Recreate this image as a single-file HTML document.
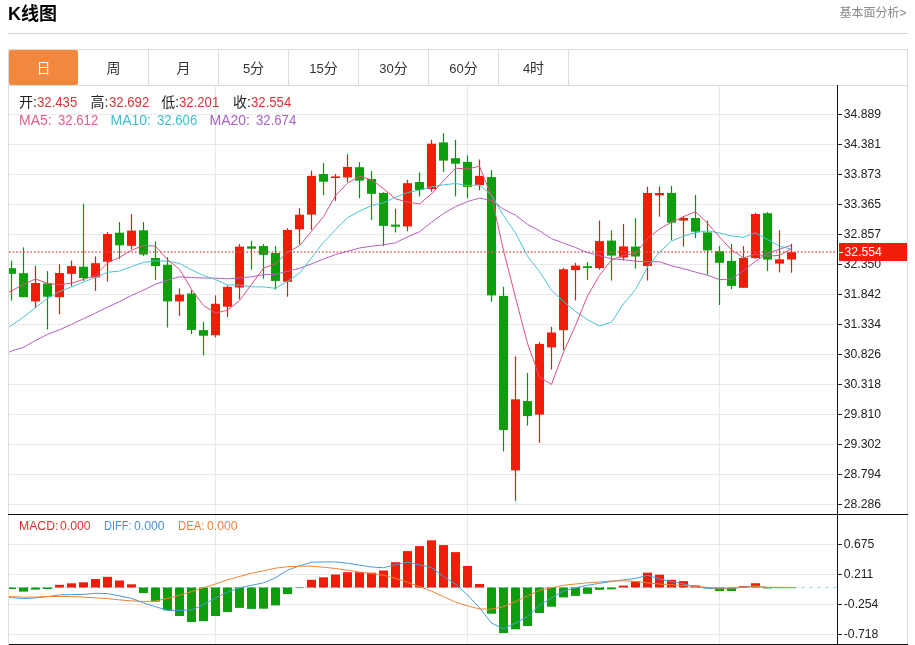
<!DOCTYPE html>
<html lang="zh-CN"><head><meta charset="utf-8"><title>K线图</title>
<style>
html,body{margin:0;padding:0;background:#fff}
body{width:915px;height:645px;position:relative;overflow:hidden;font-family:"Liberation Sans","Noto Sans CJK SC",sans-serif;color:#222}
.title{position:absolute;left:8px;top:2px;font-size:18px;font-weight:bold;line-height:24px;color:#000}
  .more{position:absolute;right:8.5px;top:4.5px;font-size:12px;line-height:17px;color:#8a8a8a}
.hr{position:absolute;left:8px;top:33px;width:900px;height:1px;background:#d4d4d4}
.box{position:absolute;left:8px;top:49px;width:900px;height:600px;border:1px solid #dcdcdc;border-bottom:none;box-sizing:border-box}
.tabline{position:absolute;left:8px;top:85px;width:900px;height:1px;background:#dcdcdc}
.tab{position:absolute;top:50px;width:70px;height:35px;line-height:36px;text-align:center;font-size:14px;color:#333;box-sizing:border-box;border-right:1px solid #dcdcdc}
.tab.on{background:#f1883d;color:#fff;border-right:none;border-radius:2px;width:69px}
.tab i{font-style:normal;font-size:13px}
.t{position:absolute;font-size:14px;line-height:16px;white-space:nowrap}
  .m{font-size:13px}
.n{transform:scaleX(.94);transform-origin:0 0}
.yl{position:absolute;left:843.8px;font-size:12.2px;line-height:14px;color:#222;white-space:nowrap}
.tag{position:absolute;left:839px;top:243px;width:68px;height:18px;background:#f21c0a;color:#fff;font-size:12.2px;line-height:18.8px;text-indent:5.6px}
.tag:before{content:'';position:absolute;left:0;top:8.5px;width:4px;height:1px;background:#fff}
</style></head><body>
<div class="title">K线图</div>
<div class="more">基本面分析&gt;</div>
<div class="hr"></div>
<div class="box"></div>
<div class="tab on" style="left:9px">日</div><div class="tab" style="left:79px">周</div><div class="tab" style="left:149px">月</div><div class="tab" style="left:219px"><i>5</i>分</div><div class="tab" style="left:289px"><i>15</i>分</div><div class="tab" style="left:359px"><i>30</i>分</div><div class="tab" style="left:429px"><i>60</i>分</div><div class="tab" style="left:499px"><i>4</i>时</div>
<div class="tabline"></div>
<svg width="915" height="645" viewBox="0 0 915 645" style="position:absolute;left:0;top:0"><defs><clipPath id="cp"><rect x="9" y="85" width="828" height="560"/></clipPath></defs><g stroke="#e9e9ea" stroke-width="1"><line x1="9" y1="114.5" x2="837" y2="114.5"/><line x1="9" y1="144.5" x2="837" y2="144.5"/><line x1="9" y1="174.5" x2="837" y2="174.5"/><line x1="9" y1="204.5" x2="837" y2="204.5"/><line x1="9" y1="234.5" x2="837" y2="234.5"/><line x1="9" y1="264.5" x2="837" y2="264.5"/><line x1="9" y1="294.5" x2="837" y2="294.5"/><line x1="9" y1="324.5" x2="837" y2="324.5"/><line x1="9" y1="354.5" x2="837" y2="354.5"/><line x1="9" y1="384.5" x2="837" y2="384.5"/><line x1="9" y1="414.5" x2="837" y2="414.5"/><line x1="9" y1="444.5" x2="837" y2="444.5"/><line x1="9" y1="474.5" x2="837" y2="474.5"/><line x1="9" y1="504.5" x2="837" y2="504.5"/><line x1="9" y1="544.5" x2="837" y2="544.5"/><line x1="9" y1="574.5" x2="837" y2="574.5"/><line x1="9" y1="604.5" x2="837" y2="604.5"/><line x1="9" y1="634.5" x2="837" y2="634.5"/></g><g stroke="#e3eaf1" stroke-width="1"><line x1="215.5" y1="85" x2="215.5" y2="644"/><line x1="467.5" y1="85" x2="467.5" y2="644"/><line x1="719.5" y1="85" x2="719.5" y2="644"/></g><line x1="9" y1="587.5" x2="837" y2="587.5" stroke="#a8d4ea" stroke-width="1" stroke-dasharray="4,4"/><g clip-path="url(#cp)">
<line x1="11.5" y1="260.6" x2="11.5" y2="300.6" stroke="#0e8e12" stroke-width="1.2"/>
<rect x="7.0" y="268.2" width="9" height="5.6" fill="#0c9e0c"/>
<line x1="23.5" y1="247.4" x2="23.5" y2="297.2" stroke="#0e8e12" stroke-width="1.2"/>
<rect x="19.0" y="273.2" width="9" height="24.0" fill="#0c9e0c"/>
<line x1="35.5" y1="265.9" x2="35.5" y2="308.0" stroke="#cc2018" stroke-width="1.2"/>
<rect x="31.0" y="283.0" width="9" height="18.4" fill="#f21c0a"/>
<line x1="47.5" y1="271.1" x2="47.5" y2="329.6" stroke="#0e8e12" stroke-width="1.2"/>
<rect x="43.0" y="283.5" width="9" height="13.2" fill="#0c9e0c"/>
<line x1="59.5" y1="264.3" x2="59.5" y2="314.3" stroke="#cc2018" stroke-width="1.2"/>
<rect x="55.0" y="273.0" width="9" height="24.2" fill="#f21c0a"/>
<line x1="71.5" y1="260.6" x2="71.5" y2="286.2" stroke="#cc2018" stroke-width="1.2"/>
<rect x="67.0" y="266.1" width="9" height="7.7" fill="#f21c0a"/>
<line x1="83.5" y1="203.7" x2="83.5" y2="280.9" stroke="#0e8e12" stroke-width="1.2"/>
<rect x="79.0" y="266.7" width="9" height="11.3" fill="#0c9e0c"/>
<line x1="95.5" y1="256.4" x2="95.5" y2="290.9" stroke="#cc2018" stroke-width="1.2"/>
<rect x="91.0" y="263.2" width="9" height="14.3" fill="#f21c0a"/>
<line x1="107.5" y1="232.1" x2="107.5" y2="281.4" stroke="#cc2018" stroke-width="1.2"/>
<rect x="103.0" y="234.0" width="9" height="27.7" fill="#f21c0a"/>
<line x1="119.5" y1="222.1" x2="119.5" y2="259.0" stroke="#0e8e12" stroke-width="1.2"/>
<rect x="115.0" y="232.7" width="9" height="12.6" fill="#0c9e0c"/>
<line x1="131.5" y1="214.2" x2="131.5" y2="249.3" stroke="#cc2018" stroke-width="1.2"/>
<rect x="127.0" y="230.6" width="9" height="15.2" fill="#f21c0a"/>
<line x1="143.5" y1="222.1" x2="143.5" y2="255.9" stroke="#0e8e12" stroke-width="1.2"/>
<rect x="139.0" y="230.3" width="9" height="24.2" fill="#0c9e0c"/>
<line x1="155.5" y1="241.4" x2="155.5" y2="280.1" stroke="#0e8e12" stroke-width="1.2"/>
<rect x="151.0" y="258.0" width="9" height="8.1" fill="#0c9e0c"/>
<line x1="167.5" y1="257.2" x2="167.5" y2="327.5" stroke="#0e8e12" stroke-width="1.2"/>
<rect x="163.0" y="264.8" width="9" height="36.6" fill="#0c9e0c"/>
<line x1="179.5" y1="288.3" x2="179.5" y2="315.9" stroke="#cc2018" stroke-width="1.2"/>
<rect x="175.0" y="294.6" width="9" height="6.8" fill="#f21c0a"/>
<line x1="191.5" y1="290.1" x2="191.5" y2="334.1" stroke="#0e8e12" stroke-width="1.2"/>
<rect x="187.0" y="293.5" width="9" height="36.4" fill="#0c9e0c"/>
<line x1="203.5" y1="321.7" x2="203.5" y2="355.4" stroke="#0e8e12" stroke-width="1.2"/>
<rect x="199.0" y="330.1" width="9" height="5.6" fill="#0c9e0c"/>
<line x1="215.5" y1="295.4" x2="215.5" y2="337.5" stroke="#cc2018" stroke-width="1.2"/>
<rect x="211.0" y="303.8" width="9" height="31.4" fill="#f21c0a"/>
<line x1="227.5" y1="285.4" x2="227.5" y2="317.0" stroke="#cc2018" stroke-width="1.2"/>
<rect x="223.0" y="286.9" width="9" height="19.8" fill="#f21c0a"/>
<line x1="239.5" y1="244.0" x2="239.5" y2="299.3" stroke="#cc2018" stroke-width="1.2"/>
<rect x="235.0" y="246.6" width="9" height="40.9" fill="#f21c0a"/>
<line x1="251.5" y1="240.8" x2="251.5" y2="269.6" stroke="#0e8e12" stroke-width="1.2"/>
<rect x="247.0" y="246.4" width="9" height="2.3" fill="#0c9e0c"/>
<line x1="263.5" y1="244.0" x2="263.5" y2="278.8" stroke="#0e8e12" stroke-width="1.2"/>
<rect x="259.0" y="246.1" width="9" height="8.7" fill="#0c9e0c"/>
<line x1="275.5" y1="246.1" x2="275.5" y2="289.6" stroke="#0e8e12" stroke-width="1.2"/>
<rect x="271.0" y="253.0" width="9" height="27.9" fill="#0c9e0c"/>
<line x1="287.5" y1="228.2" x2="287.5" y2="296.7" stroke="#cc2018" stroke-width="1.2"/>
<rect x="283.0" y="230.0" width="9" height="51.7" fill="#f21c0a"/>
<line x1="299.5" y1="208.1" x2="299.5" y2="244.4" stroke="#cc2018" stroke-width="1.2"/>
<rect x="295.0" y="214.7" width="9" height="14.6" fill="#f21c0a"/>
<line x1="311.5" y1="170.6" x2="311.5" y2="229.9" stroke="#cc2018" stroke-width="1.2"/>
<rect x="307.0" y="175.9" width="9" height="38.7" fill="#f21c0a"/>
<line x1="323.5" y1="163.2" x2="323.5" y2="195.1" stroke="#0e8e12" stroke-width="1.2"/>
<rect x="319.0" y="174.0" width="9" height="7.7" fill="#0c9e0c"/>
<line x1="335.5" y1="174.0" x2="335.5" y2="200.9" stroke="#cc2018" stroke-width="1.2"/>
<rect x="331.0" y="176.4" width="9" height="1.6" fill="#f21c0a"/>
<line x1="347.5" y1="154.3" x2="347.5" y2="181.9" stroke="#cc2018" stroke-width="1.2"/>
<rect x="343.0" y="166.9" width="9" height="10.5" fill="#f21c0a"/>
<line x1="359.5" y1="162.2" x2="359.5" y2="198.3" stroke="#0e8e12" stroke-width="1.2"/>
<rect x="355.0" y="167.2" width="9" height="13.4" fill="#0c9e0c"/>
<line x1="371.5" y1="171.1" x2="371.5" y2="220.1" stroke="#0e8e12" stroke-width="1.2"/>
<rect x="367.0" y="179.0" width="9" height="14.8" fill="#0c9e0c"/>
<line x1="383.5" y1="192.2" x2="383.5" y2="246.2" stroke="#0e8e12" stroke-width="1.2"/>
<rect x="379.0" y="193.0" width="9" height="32.9" fill="#0c9e0c"/>
<line x1="395.5" y1="208.8" x2="395.5" y2="232.5" stroke="#0e8e12" stroke-width="1.2"/>
<rect x="391.0" y="224.6" width="9" height="2.1" fill="#0c9e0c"/>
<line x1="407.5" y1="179.8" x2="407.5" y2="231.2" stroke="#cc2018" stroke-width="1.2"/>
<rect x="403.0" y="183.2" width="9" height="43.2" fill="#f21c0a"/>
<line x1="419.5" y1="172.4" x2="419.5" y2="196.4" stroke="#0e8e12" stroke-width="1.2"/>
<rect x="415.0" y="182.0" width="9" height="8.0" fill="#0c9e0c"/>
<line x1="431.5" y1="139.8" x2="431.5" y2="191.7" stroke="#cc2018" stroke-width="1.2"/>
<rect x="427.0" y="143.7" width="9" height="45.3" fill="#f21c0a"/>
<line x1="443.5" y1="133.2" x2="443.5" y2="171.9" stroke="#0e8e12" stroke-width="1.2"/>
<rect x="439.0" y="142.4" width="9" height="18.2" fill="#0c9e0c"/>
<line x1="455.5" y1="139.8" x2="455.5" y2="196.4" stroke="#0e8e12" stroke-width="1.2"/>
<rect x="451.0" y="158.2" width="9" height="5.5" fill="#0c9e0c"/>
<line x1="467.5" y1="155.3" x2="467.5" y2="198.3" stroke="#0e8e12" stroke-width="1.2"/>
<rect x="463.0" y="161.9" width="9" height="25.0" fill="#0c9e0c"/>
<line x1="479.5" y1="159.5" x2="479.5" y2="190.3" stroke="#cc2018" stroke-width="1.2"/>
<rect x="475.0" y="175.9" width="9" height="9.2" fill="#f21c0a"/>
<line x1="491.5" y1="170.1" x2="491.5" y2="301.7" stroke="#0e8e12" stroke-width="1.2"/>
<rect x="487.0" y="177.1" width="9" height="118.3" fill="#0c9e0c"/>
<line x1="503.5" y1="286.7" x2="503.5" y2="451.4" stroke="#0e8e12" stroke-width="1.2"/>
<rect x="499.0" y="295.9" width="9" height="134.2" fill="#0c9e0c"/>
<line x1="515.5" y1="356.3" x2="515.5" y2="500.7" stroke="#cc2018" stroke-width="1.2"/>
<rect x="511.0" y="399.3" width="9" height="71.1" fill="#f21c0a"/>
<line x1="527.5" y1="372.9" x2="527.5" y2="425.6" stroke="#0e8e12" stroke-width="1.2"/>
<rect x="523.0" y="401.1" width="9" height="15.0" fill="#0c9e0c"/>
<line x1="539.5" y1="342.1" x2="539.5" y2="442.7" stroke="#cc2018" stroke-width="1.2"/>
<rect x="535.0" y="344.0" width="9" height="70.6" fill="#f21c0a"/>
<line x1="551.5" y1="326.7" x2="551.5" y2="369.5" stroke="#cc2018" stroke-width="1.2"/>
<rect x="547.0" y="332.5" width="9" height="14.9" fill="#f21c0a"/>
<line x1="563.5" y1="268.0" x2="563.5" y2="350.0" stroke="#cc2018" stroke-width="1.2"/>
<rect x="559.0" y="269.3" width="9" height="60.9" fill="#f21c0a"/>
<line x1="575.5" y1="262.7" x2="575.5" y2="300.4" stroke="#cc2018" stroke-width="1.2"/>
<rect x="571.0" y="265.6" width="9" height="4.5" fill="#f21c0a"/>
<line x1="587.5" y1="262.2" x2="587.5" y2="279.9" stroke="#0e8e12" stroke-width="1.2"/>
<rect x="583.0" y="266.2" width="9" height="1.8" fill="#0c9e0c"/>
<line x1="599.5" y1="220.6" x2="599.5" y2="269.6" stroke="#cc2018" stroke-width="1.2"/>
<rect x="595.0" y="241.1" width="9" height="26.9" fill="#f21c0a"/>
<line x1="611.5" y1="230.6" x2="611.5" y2="280.6" stroke="#0e8e12" stroke-width="1.2"/>
<rect x="607.0" y="240.6" width="9" height="15.0" fill="#0c9e0c"/>
<line x1="623.5" y1="224.0" x2="623.5" y2="260.4" stroke="#cc2018" stroke-width="1.2"/>
<rect x="619.0" y="246.4" width="9" height="11.1" fill="#f21c0a"/>
<line x1="635.5" y1="218.1" x2="635.5" y2="268.6" stroke="#0e8e12" stroke-width="1.2"/>
<rect x="631.0" y="246.6" width="9" height="9.9" fill="#0c9e0c"/>
<line x1="647.5" y1="186.7" x2="647.5" y2="280.5" stroke="#cc2018" stroke-width="1.2"/>
<rect x="643.0" y="193.0" width="9" height="73.0" fill="#f21c0a"/>
<line x1="659.5" y1="186.4" x2="659.5" y2="216.7" stroke="#cc2018" stroke-width="1.2"/>
<rect x="655.0" y="193.0" width="9" height="2.3" fill="#f21c0a"/>
<line x1="671.5" y1="185.8" x2="671.5" y2="240.3" stroke="#0e8e12" stroke-width="1.2"/>
<rect x="667.0" y="192.9" width="9" height="29.8" fill="#0c9e0c"/>
<line x1="683.5" y1="216.1" x2="683.5" y2="246.4" stroke="#cc2018" stroke-width="1.2"/>
<rect x="679.0" y="218.0" width="9" height="2.6" fill="#f21c0a"/>
<line x1="695.5" y1="195.0" x2="695.5" y2="238.2" stroke="#0e8e12" stroke-width="1.2"/>
<rect x="691.0" y="218.0" width="9" height="13.7" fill="#0c9e0c"/>
<line x1="707.5" y1="220.6" x2="707.5" y2="274.6" stroke="#0e8e12" stroke-width="1.2"/>
<rect x="703.0" y="232.4" width="9" height="18.0" fill="#0c9e0c"/>
<line x1="719.5" y1="246.1" x2="719.5" y2="304.9" stroke="#0e8e12" stroke-width="1.2"/>
<rect x="715.0" y="251.2" width="9" height="11.6" fill="#0c9e0c"/>
<line x1="731.5" y1="243.8" x2="731.5" y2="289.1" stroke="#0e8e12" stroke-width="1.2"/>
<rect x="727.0" y="260.9" width="9" height="25.0" fill="#0c9e0c"/>
<line x1="743.5" y1="246.1" x2="743.5" y2="287.8" stroke="#cc2018" stroke-width="1.2"/>
<rect x="739.0" y="258.0" width="9" height="29.8" fill="#f21c0a"/>
<line x1="755.5" y1="212.7" x2="755.5" y2="258.8" stroke="#cc2018" stroke-width="1.2"/>
<rect x="751.0" y="214.0" width="9" height="44.1" fill="#f21c0a"/>
<line x1="767.5" y1="212.2" x2="767.5" y2="271.2" stroke="#0e8e12" stroke-width="1.2"/>
<rect x="763.0" y="213.2" width="9" height="46.4" fill="#0c9e0c"/>
<line x1="779.5" y1="230.3" x2="779.5" y2="272.5" stroke="#cc2018" stroke-width="1.2"/>
<rect x="775.0" y="259.3" width="9" height="4.3" fill="#f21c0a"/>
<line x1="791.5" y1="243.7" x2="791.5" y2="272.7" stroke="#cc2018" stroke-width="1.2"/>
<rect x="787.0" y="252.1" width="9" height="7.4" fill="#f21c0a"/>
<rect x="7.0" y="587.5" width="9" height="1.5" fill="#0c9e0c"/>
<rect x="19.0" y="587.5" width="9" height="4.1" fill="#0c9e0c"/>
<rect x="31.0" y="587.5" width="9" height="2.1" fill="#0c9e0c"/>
<rect x="43.0" y="587.5" width="9" height="1.5" fill="#0c9e0c"/>
<rect x="55.0" y="584.8" width="9" height="2.7" fill="#f21c0a"/>
<rect x="67.0" y="583.3" width="9" height="4.2" fill="#f21c0a"/>
<rect x="79.0" y="582.3" width="9" height="5.2" fill="#f21c0a"/>
<rect x="91.0" y="579.0" width="9" height="8.5" fill="#f21c0a"/>
<rect x="103.0" y="576.8" width="9" height="10.7" fill="#f21c0a"/>
<rect x="115.0" y="580.5" width="9" height="7.0" fill="#f21c0a"/>
<rect x="127.0" y="584.3" width="9" height="3.2" fill="#f21c0a"/>
<rect x="139.0" y="587.5" width="9" height="5.6" fill="#0c9e0c"/>
<rect x="151.0" y="587.5" width="9" height="14.1" fill="#0c9e0c"/>
<rect x="163.0" y="587.5" width="9" height="22.9" fill="#0c9e0c"/>
<rect x="175.0" y="587.5" width="9" height="28.5" fill="#0c9e0c"/>
<rect x="187.0" y="587.5" width="9" height="34.5" fill="#0c9e0c"/>
<rect x="199.0" y="587.5" width="9" height="33.7" fill="#0c9e0c"/>
<rect x="211.0" y="587.5" width="9" height="28.5" fill="#0c9e0c"/>
<rect x="223.0" y="587.5" width="9" height="24.5" fill="#0c9e0c"/>
<rect x="235.0" y="587.5" width="9" height="20.4" fill="#0c9e0c"/>
<rect x="247.0" y="587.5" width="9" height="21.4" fill="#0c9e0c"/>
<rect x="259.0" y="587.5" width="9" height="21.2" fill="#0c9e0c"/>
<rect x="271.0" y="587.5" width="9" height="17.9" fill="#0c9e0c"/>
<rect x="283.0" y="587.5" width="9" height="6.6" fill="#0c9e0c"/>
<rect x="295.0" y="587.0" width="9" height="0.5" fill="#f21c0a"/>
<rect x="307.0" y="579.8" width="9" height="7.7" fill="#f21c0a"/>
<rect x="319.0" y="577.3" width="9" height="10.2" fill="#f21c0a"/>
<rect x="331.0" y="574.5" width="9" height="13.0" fill="#f21c0a"/>
<rect x="343.0" y="572.2" width="9" height="15.3" fill="#f21c0a"/>
<rect x="355.0" y="572.2" width="9" height="15.3" fill="#f21c0a"/>
<rect x="367.0" y="572.7" width="9" height="14.8" fill="#f21c0a"/>
<rect x="379.0" y="570.5" width="9" height="17.0" fill="#f21c0a"/>
<rect x="391.0" y="562.2" width="9" height="25.3" fill="#f21c0a"/>
<rect x="403.0" y="551.1" width="9" height="36.4" fill="#f21c0a"/>
<rect x="415.0" y="546.1" width="9" height="41.4" fill="#f21c0a"/>
<rect x="427.0" y="540.3" width="9" height="47.2" fill="#f21c0a"/>
<rect x="439.0" y="545.1" width="9" height="42.4" fill="#f21c0a"/>
<rect x="451.0" y="552.1" width="9" height="35.4" fill="#f21c0a"/>
<rect x="463.0" y="566.0" width="9" height="21.5" fill="#f21c0a"/>
<rect x="475.0" y="584.0" width="9" height="3.5" fill="#f21c0a"/>
<rect x="487.0" y="587.5" width="9" height="26.2" fill="#0c9e0c"/>
<rect x="499.0" y="587.5" width="9" height="45.6" fill="#0c9e0c"/>
<rect x="511.0" y="587.5" width="9" height="41.8" fill="#0c9e0c"/>
<rect x="523.0" y="587.5" width="9" height="38.5" fill="#0c9e0c"/>
<rect x="535.0" y="587.5" width="9" height="25.5" fill="#0c9e0c"/>
<rect x="547.0" y="587.5" width="9" height="19.2" fill="#0c9e0c"/>
<rect x="559.0" y="587.5" width="9" height="9.9" fill="#0c9e0c"/>
<rect x="571.0" y="587.5" width="9" height="8.4" fill="#0c9e0c"/>
<rect x="583.0" y="587.5" width="9" height="6.3" fill="#0c9e0c"/>
<rect x="595.0" y="587.5" width="9" height="2.3" fill="#0c9e0c"/>
<rect x="607.0" y="587.5" width="9" height="1.8" fill="#0c9e0c"/>
<rect x="619.0" y="585.6" width="9" height="1.9" fill="#f21c0a"/>
<rect x="631.0" y="581.3" width="9" height="6.2" fill="#f21c0a"/>
<rect x="643.0" y="572.7" width="9" height="14.8" fill="#f21c0a"/>
<rect x="655.0" y="574.7" width="9" height="12.8" fill="#f21c0a"/>
<rect x="667.0" y="579.8" width="9" height="7.7" fill="#f21c0a"/>
<rect x="679.0" y="581.1" width="9" height="6.4" fill="#f21c0a"/>
<rect x="691.0" y="585.4" width="9" height="2.1" fill="#f21c0a"/>
<rect x="703.0" y="587.5" width="9" height="0.9" fill="#0c9e0c"/>
<rect x="715.0" y="587.5" width="9" height="3.5" fill="#0c9e0c"/>
<rect x="727.0" y="587.5" width="9" height="3.5" fill="#0c9e0c"/>
<rect x="739.0" y="586.2" width="9" height="1.3" fill="#f21c0a"/>
<rect x="751.0" y="583.2" width="9" height="4.3" fill="#f21c0a"/>
<rect x="763.0" y="587.5" width="9" height="0.9" fill="#0c9e0c"/>
<rect x="775.0" y="587.5" width="9" height="0.6" fill="#0c9e0c"/>
<rect x="787.0" y="587.5" width="9" height="0.6" fill="#0c9e0c"/><line x1="9" y1="252" x2="837" y2="252" stroke="#e25555" stroke-width="1.5" stroke-dasharray="1.5,2.1"/><polyline fill="none" stroke="#b25fc4" stroke-width="1.0" stroke-linejoin="round" points="8,352.6 11.5,351.0 23.5,347.3 35.5,340.5 47.5,334.4 59.5,329.8 71.5,324.4 83.5,318.7 95.5,313.0 107.5,307.2 119.5,301.6 131.5,295.4 143.5,290.1 155.5,284.3 167.5,280.1 179.5,276.9 191.5,277.5 203.5,278.0 215.5,278.2 227.5,278.8 239.5,278.0 251.5,276.8 263.5,274.6 275.5,274.5 287.5,271.2 299.5,268.3 311.5,263.8 323.5,259.0 335.5,254.6 347.5,251.3 359.5,248.0 371.5,246.2 383.5,244.8 395.5,242.8 407.5,236.9 419.5,231.7 431.5,222.3 443.5,213.6 455.5,206.6 467.5,201.6 479.5,198.1 491.5,200.4 503.5,209.2 515.5,215.1 527.5,224.4 539.5,230.8 551.5,238.7 563.5,243.1 575.5,247.5 587.5,252.6 599.5,255.6 611.5,258.7 623.5,259.7 635.5,261.2 647.5,261.7 659.5,261.8 671.5,265.8 683.5,268.7 695.5,272.1 707.5,275.2 719.5,279.6 731.5,279.1 743.5,270.5 755.5,261.2 767.5,253.4 779.5,249.2 791.5,245.2"/><polyline fill="none" stroke="#48c6d2" stroke-width="1.0" stroke-linejoin="round" points="8,327.4 11.5,325.4 23.5,317.1 35.5,307.6 47.5,298.5 59.5,291.5 71.5,287.0 83.5,282.0 95.5,277.4 107.5,272.3 119.5,271.0 131.5,266.7 143.5,262.4 155.5,260.8 167.5,261.2 179.5,263.4 191.5,269.8 203.5,275.5 215.5,279.6 227.5,284.9 239.5,285.0 251.5,286.8 263.5,286.9 275.5,288.3 287.5,281.2 299.5,273.2 311.5,257.8 323.5,242.4 335.5,229.7 347.5,217.7 359.5,211.1 371.5,205.6 383.5,202.7 395.5,197.3 407.5,192.6 419.5,190.1 431.5,186.9 443.5,184.8 455.5,183.5 467.5,185.5 479.5,185.0 491.5,195.2 503.5,215.6 515.5,232.9 527.5,256.2 539.5,271.6 551.5,290.4 563.5,301.3 575.5,311.5 587.5,319.6 599.5,326.1 611.5,322.2 623.5,303.8 635.5,289.5 647.5,267.2 659.5,252.1 671.5,241.1 683.5,236.0 695.5,232.6 707.5,230.8 719.5,233.0 731.5,236.0 743.5,237.2 755.5,232.9 767.5,239.6 779.5,246.2 791.5,249.2"/><polyline fill="none" stroke="#e2507c" stroke-width="1.0" stroke-linejoin="round" points="8,292.5 11.5,291.0 23.5,284.4 35.5,279.0 47.5,283.4 59.5,284.7 71.5,283.2 83.5,279.4 95.5,275.4 107.5,262.9 119.5,257.3 131.5,250.2 143.5,245.5 155.5,246.1 167.5,259.6 179.5,269.4 191.5,289.3 203.5,305.5 215.5,313.1 227.5,310.2 239.5,300.6 251.5,284.3 263.5,268.2 275.5,263.6 287.5,252.2 299.5,245.8 311.5,231.3 323.5,216.6 335.5,195.7 347.5,183.1 359.5,176.3 371.5,179.9 383.5,188.7 395.5,198.8 407.5,202.0 419.5,203.9 431.5,193.9 443.5,180.8 455.5,168.2 467.5,169.0 479.5,166.2 491.5,196.5 503.5,250.4 515.5,297.5 527.5,343.4 539.5,377.0 551.5,384.4 563.5,352.2 575.5,325.5 587.5,295.9 599.5,275.3 611.5,259.9 623.5,255.3 635.5,253.5 647.5,238.5 659.5,228.9 671.5,222.3 683.5,216.6 695.5,211.7 707.5,223.2 719.5,237.1 731.5,249.8 743.5,257.8 755.5,254.2 767.5,256.1 779.5,255.4 791.5,248.6"/><polyline fill="none" stroke="#4a9be0" stroke-width="1.0" stroke-linejoin="round" points="8,597.4 11.5,597.6 23.5,598.6 35.5,597.9 47.5,596.6 59.5,594.9 71.5,594.6 83.5,594.4 95.5,593.3 107.5,593.6 119.5,595.9 131.5,598.4 143.5,602.9 155.5,606.7 167.5,610.4 179.5,610.4 191.5,610.0 203.5,604.7 215.5,597.9 227.5,592.1 239.5,587.8 251.5,585.3 263.5,582.8 275.5,577.8 287.5,570.2 299.5,565.9 311.5,562.2 323.5,561.9 335.5,561.9 347.5,563.2 359.5,565.2 371.5,567.0 383.5,567.7 395.5,564.7 407.5,562.2 419.5,564.7 431.5,567.7 443.5,576.5 455.5,584.0 467.5,594.9 479.5,607.9 491.5,623.0 503.5,628.8 515.5,623.0 527.5,616.7 539.5,605.4 551.5,597.9 563.5,591.1 575.5,587.8 587.5,585.3 599.5,583.3 611.5,581.5 623.5,579.8 635.5,578.5 647.5,575.2 659.5,579.0 671.5,581.5 683.5,584.0 695.5,586.5 707.5,588.2 719.5,589.0 731.5,588.6 743.5,587.0 755.5,585.8 767.5,587.6 779.5,587.6 791.5,587.5"/><polyline fill="none" stroke="#f08434" stroke-width="1.0" stroke-linejoin="round" points="8,596.6 11.5,596.7 23.5,597.1 35.5,597.1 47.5,596.6 59.5,596.4 71.5,596.6 83.5,597.1 95.5,597.9 107.5,598.6 119.5,599.9 131.5,600.9 143.5,601.4 155.5,601.1 167.5,598.4 179.5,595.4 191.5,591.6 203.5,587.8 215.5,584.0 227.5,579.8 239.5,576.5 251.5,573.2 263.5,570.7 275.5,568.2 287.5,566.7 299.5,566.2 311.5,566.2 323.5,567.2 335.5,568.5 347.5,570.2 359.5,572.0 371.5,573.5 383.5,575.2 395.5,578.3 407.5,582.3 419.5,586.6 431.5,591.1 443.5,596.6 455.5,602.1 467.5,605.9 479.5,608.9 491.5,609.2 503.5,606.7 515.5,601.6 527.5,595.9 539.5,590.3 551.5,587.8 563.5,585.3 575.5,584.0 587.5,582.8 599.5,582.0 611.5,581.0 623.5,580.8 635.5,581.5 647.5,582.8 659.5,584.0 671.5,584.8 683.5,585.5 695.5,586.3 707.5,587.4 719.5,588.0 731.5,588.0 743.5,587.4 755.5,586.6 767.5,587.2 779.5,587.4 791.5,587.4"/></g><line x1="837.5" y1="85" x2="837.5" y2="645" stroke="#111" stroke-width="1"/><rect x="8" y="514" width="900" height="1" fill="#111"/><rect x="9" y="644" width="899" height="1" fill="#111"/><g stroke="#222" stroke-width="1"><line x1="838" y1="114.5" x2="842" y2="114.5"/><line x1="838" y1="144.5" x2="842" y2="144.5"/><line x1="838" y1="174.5" x2="842" y2="174.5"/><line x1="838" y1="204.5" x2="842" y2="204.5"/><line x1="838" y1="234.5" x2="842" y2="234.5"/><line x1="838" y1="264.5" x2="842" y2="264.5"/><line x1="838" y1="294.5" x2="842" y2="294.5"/><line x1="838" y1="324.5" x2="842" y2="324.5"/><line x1="838" y1="354.5" x2="842" y2="354.5"/><line x1="838" y1="384.5" x2="842" y2="384.5"/><line x1="838" y1="414.5" x2="842" y2="414.5"/><line x1="838" y1="444.5" x2="842" y2="444.5"/><line x1="838" y1="474.5" x2="842" y2="474.5"/><line x1="838" y1="504.5" x2="842" y2="504.5"/><line x1="838" y1="544.5" x2="842" y2="544.5"/><line x1="838" y1="574.5" x2="842" y2="574.5"/><line x1="838" y1="604.5" x2="842" y2="604.5"/><line x1="838" y1="634.5" x2="842" y2="634.5"/></g></svg>
<div class="yl" style="top:107.2px">34.889</div><div class="yl" style="top:137.2px">34.381</div><div class="yl" style="top:167.2px">33.873</div><div class="yl" style="top:197.2px">33.365</div><div class="yl" style="top:227.2px">32.857</div><div class="yl" style="top:257.2px">32.350</div><div class="yl" style="top:287.2px">31.842</div><div class="yl" style="top:317.2px">31.334</div><div class="yl" style="top:347.2px">30.826</div><div class="yl" style="top:377.2px">30.318</div><div class="yl" style="top:407.2px">29.810</div><div class="yl" style="top:437.2px">29.302</div><div class="yl" style="top:467.2px">28.794</div><div class="yl" style="top:497.2px">28.286</div><div class="yl" style="top:537.2px">0.675</div><div class="yl" style="top:567.2px">0.211</div><div class="yl" style="top:597.2px">-0.254</div><div class="yl" style="top:627.2px">-0.718</div>
<div class="tag">32.554</div>
<div class="t" style="left:19px;top:94px">开:</div><div class="t n" style="left:36.8px;top:94px;color:#d8353a">32.435</div>
<div class="t" style="left:90.5px;top:94px">高:</div><div class="t n" style="left:108.7px;top:94px;color:#d8353a">32.692</div>
<div class="t" style="left:161.3px;top:94px">低:</div><div class="t n" style="left:179.4px;top:94px;color:#d8353a">32.201</div>
<div class="t" style="left:233px;top:94px">收:</div><div class="t n" style="left:251.4px;top:94px;color:#d8353a">32.554</div>
<div class="t" style="left:19px;top:112px;color:#e0608c">MA5:</div><div class="t n" style="left:57.8px;top:112px;color:#e0608c">32.612</div>
<div class="t" style="left:110.5px;top:112px;color:#41bdd2">MA10:</div><div class="t n" style="left:156.9px;top:112px;color:#41bdd2">32.606</div>
<div class="t" style="left:209.5px;top:112px;color:#a863c4">MA20:</div><div class="t n" style="left:256.4px;top:112px;color:#a863c4">32.674</div>
<div class="t m" style="left:19px;top:518px;color:#e03030;transform:scaleX(.94);transform-origin:0 0">MACD:</div><div class="t m n" style="left:60.4px;top:518px;color:#e03030">0.000</div>
<div class="t m" style="left:104px;top:518px;color:#4a90d9;transform:scaleX(.85);transform-origin:0 0">DIFF:</div><div class="t m n" style="left:134px;top:518px;color:#4a90d9">0.000</div>
<div class="t m" style="left:177.5px;top:518px;color:#f08030;transform:scaleX(.87);transform-origin:0 0">DEA:</div><div class="t m n" style="left:206.5px;top:518px;color:#f08030">0.000</div>
</body></html>
